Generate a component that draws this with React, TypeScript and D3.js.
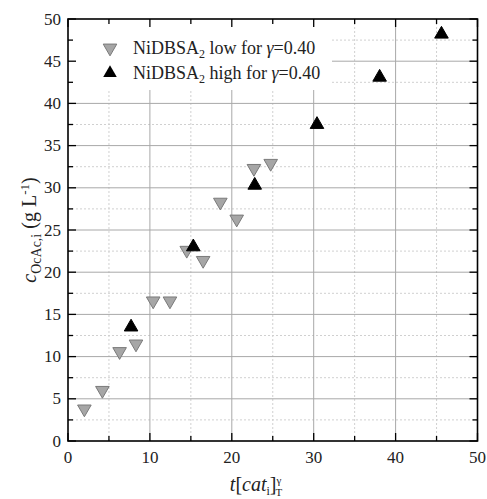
import React, { useEffect, useRef } from "react";
import * as d3 from "d3";

// NiDBSA2 low for gamma = 0.40
const lowX = [2.0, 4.2, 6.3, 8.3, 10.4, 12.45, 14.5, 16.5, 18.6, 20.6, 22.7, 24.75];
const lowY = [3.8, 6.0, 10.6, 11.5, 16.6, 16.6, 22.6, 21.4, 28.3, 26.3, 32.3, 32.9];
// NiDBSA2 high for gamma = 0.40
const highX = [7.7, 15.3, 22.8, 30.4, 38.05, 45.6];
const highY = [13.5, 23.0, 30.3, 37.5, 43.1, 48.2];

const xTicks = [0, 10, 20, 30, 40, 50];
const yTicks = [0, 5, 10, 15, 20, 25, 30, 35, 40, 45, 50];

const W = 487;
const H = 499;
const FONT = "Liberation Serif, serif";

const App = () => {
  const ref = useRef<SVGSVGElement>(null);

  useEffect(() => {
    const svg = d3.select(ref.current);
    svg.selectAll("*").remove();

    const left = 68, right = 477.5, top = 19, bottom = 441;
    const x = d3.scaleLinear().domain([0, 50]).range([left, right]);
    const y = d3.scaleLinear().domain([0, 50]).range([bottom, top]);

    const grid = svg.append("g");
    // minor gridlines (dashed)
    d3.range(5, 50, 10).forEach(v => {
      grid.append("line").attr("x1", x(v)).attr("x2", x(v)).attr("y1", top).attr("y2", bottom)
        .attr("stroke", "#d0d0d0").attr("stroke-dasharray", "2,2").attr("stroke-width", 1);
    });
    d3.range(2.5, 50, 5).forEach(v => {
      grid.append("line").attr("x1", left).attr("x2", right).attr("y1", y(v)).attr("y2", y(v))
        .attr("stroke", "#d0d0d0").attr("stroke-dasharray", "2,2").attr("stroke-width", 1);
    });
    // major gridlines
    d3.range(10, 50, 10).forEach(v => {
      grid.append("line").attr("x1", x(v)).attr("x2", x(v)).attr("y1", top).attr("y2", bottom)
        .attr("stroke", "#a8a8a8").attr("stroke-width", 1);
    });
    d3.range(5, 50, 5).forEach(v => {
      grid.append("line").attr("x1", left).attr("x2", right).attr("y1", y(v)).attr("y2", y(v))
        .attr("stroke", "#a8a8a8").attr("stroke-width", 1);
    });

    // legend background
    svg.append("rect").attr("x", left + 1).attr("y", top + 1).attr("width", 263).attr("height", 70)
      .attr("fill", "#fff");

    // ticks, inward on all four sides
    const tk = svg.append("g").attr("stroke", "#000").attr("stroke-width", 1.3);
    d3.range(0, 50.1, 5).forEach(v => {
      const len = v % 10 === 0 ? 8 : 5;
      tk.append("line").attr("x1", x(v)).attr("x2", x(v)).attr("y1", bottom).attr("y2", bottom - len);
      tk.append("line").attr("x1", x(v)).attr("x2", x(v)).attr("y1", top).attr("y2", top + len);
    });
    d3.range(0, 50.1, 2.5).forEach(v => {
      const len = v % 5 === 0 ? 8 : 5;
      tk.append("line").attr("x1", left).attr("x2", left + len).attr("y1", y(v)).attr("y2", y(v));
      tk.append("line").attr("x1", right).attr("x2", right - len).attr("y1", y(v)).attr("y2", y(v));
    });

    // frame
    svg.append("rect").attr("x", left).attr("y", top).attr("width", right - left).attr("height", bottom - top)
      .attr("fill", "none").attr("stroke", "#000").attr("stroke-width", 1.6);

    // tick labels
    svg.append("g").selectAll("text").data(xTicks).join("text")
      .attr("x", d => x(d)).attr("y", bottom + 22).attr("text-anchor", "middle")
      .style("font-family", FONT).attr("font-size", 17).attr("fill", "#222").text(d => d);
    svg.append("g").selectAll("text").data(yTicks).join("text")
      .attr("x", left - 7).attr("y", d => y(d) + 5.5).attr("text-anchor", "end")
      .style("font-family", FONT).attr("font-size", 17).attr("fill", "#222").text(d => d);

    // markers
    const tri = d3.symbol().type(d3.symbolTriangle).size(80);
    const low = lowX.map((v, i) => [v, lowY[i]]);
    const high = highX.map((v, i) => [v, highY[i]]);
    svg.append("g").selectAll("path").data(low).join("path")
      .attr("d", tri)
      .attr("transform", d => `translate(${x(d[0])},${y(d[1])}) rotate(180)`)
      .attr("fill", "#a6a6a6").attr("stroke", "#7a7a7a").attr("stroke-width", 1);
    svg.append("g").selectAll("path").data(high).join("path")
      .attr("d", tri)
      .attr("transform", d => `translate(${x(d[0])},${y(d[1])})`)
      .attr("fill", "#000").attr("stroke", "#000").attr("stroke-width", 1);

    // legend
    const lg = svg.append("g").style("font-family", FONT).attr("font-size", 18).attr("fill", "#222");
    lg.append("path").attr("d", tri).attr("transform", `translate(110,48) rotate(180)`)
      .attr("fill", "#a6a6a6").attr("stroke", "#7a7a7a");
    lg.append("path").attr("d", tri).attr("transform", `translate(110,73)`).attr("fill", "#000");
    const legendRow = (yy: number, word: string) => {
      const t = lg.append("text").attr("x", 133).attr("y", yy);
      t.append("tspan").text("NiDBSA");
      t.append("tspan").attr("font-size", 12).attr("dy", 4).text("2");
      t.append("tspan").attr("dy", -4).text(` ${word} for `);
      t.append("tspan").attr("font-style", "italic").text("γ");
      t.append("tspan").text("=0.40");
    };
    legendRow(54, "low");
    legendRow(79, "high");

    // y axis title
    const yt = svg.append("text").attr("transform", `translate(36,${(top + bottom) / 2}) rotate(-90)`)
      .attr("text-anchor", "middle").style("font-family", FONT).attr("font-size", 20).attr("fill", "#222");
    yt.append("tspan").attr("font-style", "italic").text("c");
    yt.append("tspan").attr("font-size", 14).attr("dy", 5).text("OcAc,i");
    yt.append("tspan").attr("dy", -5).text(" (g L");
    yt.append("tspan").attr("font-size", 13).attr("dy", -7).text("-1");
    yt.append("tspan").attr("dy", 7).text(")");

    // x axis title
    const xt = svg.append("text").attr("x", 256).attr("y", 491)
      .attr("text-anchor", "middle").style("font-family", FONT).attr("font-size", 20).attr("fill", "#222");
    xt.append("tspan").attr("font-style", "italic").text("t");
    xt.append("tspan").text("[");
    xt.append("tspan").attr("font-style", "italic").text("cat");
    xt.append("tspan").attr("font-size", 12).attr("dy", 4).text("i");
    xt.append("tspan").attr("dy", -4).text("]");
    xt.append("tspan").attr("font-size", 11).attr("dy", -7).text("γ");
    xt.append("tspan").attr("font-size", 11).attr("dx", -6).attr("dy", 12).text("T");
  }, []);

  return <svg ref={ref} width={W} height={H} style={{ display: "block", position: "absolute", left: 0, top: 0, background: "#fff" }} />;
};

export default App;
